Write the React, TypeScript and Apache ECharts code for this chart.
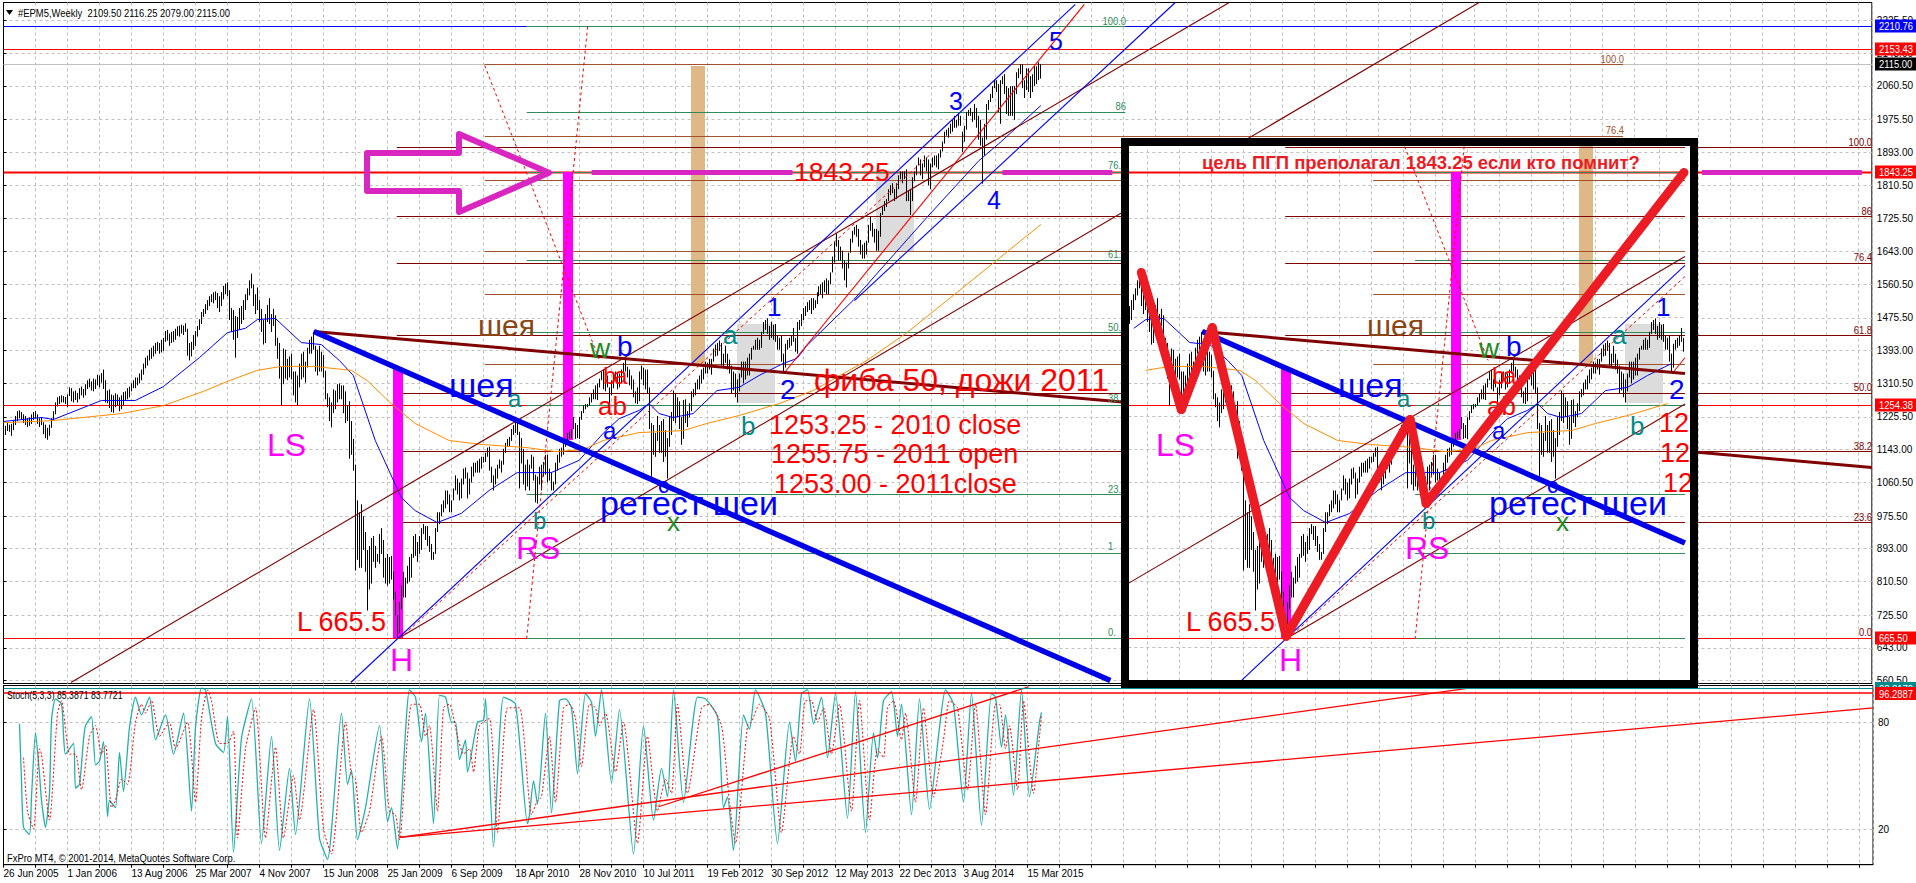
import React, { useEffect, useRef } from "react";
import * as echarts from "echarts";

// ---------- price bars (one per week, index 0 = first bar) ----------
const barHighs = [
  1200,1203,1210,1206,1208,1218,1228,1240,1242,1238,1232,1228,1222,1224,1232,1238,
  1240,1232,1222,1225,1212,1206,1198,1206,1222,1240,1262,1275,1278,1280,1278,1276,
  1282,1300,1298,1290,1292,1286,1298,1302,1296,1308,1318,1322,1315,1322,1320,1332,
  1330,1336,1345,1318,1292,1295,1282,1280,1285,1282,1275,1280,1288,1290,1298,1302,
  1310,1318,1325,1325,1335,1345,1360,1375,1380,1395,1400,1405,1412,1415,1412,1420,
  1425,1442,1445,1436,1440,1442,1448,1454,1456,1458,1456,1462,1448,1412,1415,1432,
  1442,1455,1472,1490,1498,1510,1520,1530,1535,1540,1542,1538,1530,1540,1556,1562,
  1565,1545,1500,1495,1480,1478,1500,1505,1520,1535,1550,1570,1587,1560,1535,1552,
  1520,1498,1470,1485,1508,1525,1485,1498,1482,1425,1412,1352,1398,1395,1372,1378,
  1385,1340,1340,1330,1360,1385,1390,1365,1400,1420,1428,1440,1405,1395,1405,1390,
  1382,1342,1285,1275,1262,1295,1292,1308,1310,1305,1305,1290,1255,1265,1215,1170,
  1105,1015,985,1005,975,935,890,900,920,925,900,880,930,945,915,870,
  880,872,875,835,785,725,758,800,835,820,850,872,880,925,930,910,
  925,945,955,950,950,925,905,885,945,985,985,1005,1015,1040,1040,1030,
  1015,1045,1078,1070,1060,1070,1095,1098,1085,1070,1100,1110,1110,1115,1120,1125,
  1125,1135,1148,1150,1100,1078,1095,1105,1118,1115,1145,1160,1170,1175,1195,1205,
  1215,1218,1188,1172,1145,1105,1118,1105,1130,1125,1080,1075,1100,1105,1112,1130,
  1130,1095,1085,1062,1110,1130,1145,1148,1162,1170,1185,1188,1195,1225,1210,1205,
  1225,1240,1255,1258,1258,1275,1285,1295,1305,1310,1322,1340,1345,1320,1330,1300,
  1318,1335,1340,1338,1335,1345,1362,1370,1352,1345,1330,1320,1290,1300,1340,1355,
  1350,1345,1345,1300,1210,1205,1185,1228,1205,1215,1220,1192,1172,1225,1238,1292,
  1285,1275,1265,1225,1268,1270,1240,1260,1290,1296,1312,1320,1330,1345,1350,1365,
  1362,1372,1372,1398,1408,1412,1418,1412,1385,1405,1385,1370,1355,1340,1335,1320,
  1335,1365,1365,1365,1375,1385,1400,1405,1420,1425,1420,1440,1465,1470,1474,1455,
  1465,1458,1460,1430,1425,1430,1385,1410,1420,1425,1432,1450,1425,1465,1470,1485,
  1500,1505,1515,1520,1525,1525,1520,1540,1555,1560,1565,1570,1575,1570,1590,1630,
  1668,1688,1672,1655,1645,1620,1615,1640,1675,1695,1705,1710,1700,1672,1660,1665,
  1670,1710,1730,1715,1700,1700,1695,1740,1755,1770,1775,1800,1810,1815,1800,1815,
  1835,1845,1845,1845,1850,1795,1800,1830,1845,1860,1880,1875,1865,1885,1880,1875,
  1865,1880,1885,1885,1890,1900,1920,1945,1950,1955,1965,1975,1985,1975,1990,1985,
  1945,1960,1995,2000,2005,1995,2015,2005,1985,1975,1930,1965,2015,2025,2040,2060,
  2075,2075,2065,2075,2085,2090,2060,2055,2060,2060,2060,2095,2105,2115,2115,2075,
  2105,2105,2085,2090,2110,2110,2120,2116,
];
const barLows = [
  1172,1180,1190,1188,1178,1192,1205,1215,1222,1220,1210,1205,1200,1203,1208,1218,
  1222,1208,1200,1205,1182,1172,1168,1178,1198,1218,1232,1252,1258,1262,1262,1258,
  1250,1278,1265,1262,1268,1262,1270,1280,1274,1280,1296,1300,1292,1290,1296,1305,
  1300,1312,1296,1262,1260,1248,1238,1236,1250,1255,1240,1245,1255,1268,1270,1275,
  1290,1298,1298,1305,1310,1318,1332,1348,1355,1368,1372,1378,1385,1392,1385,1388,
  1392,1415,1418,1405,1412,1415,1420,1430,1428,1436,1432,1440,1380,1368,1378,1395,
  1405,1428,1445,1460,1478,1485,1495,1505,1515,1512,1520,1500,1490,1505,1522,1535,
  1530,1470,1440,1420,1375,1425,1445,1460,1470,1495,1520,1532,1550,1505,1485,1495,
  1465,1440,1408,1412,1465,1460,1440,1455,1405,1372,1322,1254,1308,1322,1318,1325,
  1320,1280,1262,1255,1300,1320,1325,1312,1350,1385,1385,1395,1340,1330,1340,1340,
  1325,1270,1250,1215,1199,1235,1245,1262,1270,1270,1235,1210,1215,1120,1130,1090,
  838,865,845,845,890,835,737,790,805,860,845,860,855,880,820,805,
  800,805,815,765,725,665.5,680,740,770,770,805,810,820,870,875,860,
  880,890,930,915,900,885,865,865,880,935,955,975,985,995,1005,985,
  985,1015,1040,1030,1015,1020,1055,1070,1020,1030,1060,1075,1085,1085,1085,1095,
  1110,1112,1125,1090,1060,1040,1055,1070,1095,1085,1105,1135,1150,1150,1165,1180,
  1185,1180,1045,1108,1055,1040,1050,1040,1095,1065,1010,1007,1055,1040,1075,1080,
  1060,1065,1040,1040,1055,1090,1110,1125,1130,1150,1158,1170,1172,1195,1170,1172,
  1170,1218,1235,1245,1250,1255,1262,1270,1270,1268,1300,1318,1295,1290,1300,1250,
  1280,1298,1320,1295,1300,1310,1335,1340,1325,1305,1295,1275,1260,1258,1265,1320,
  1305,1295,1285,1195,1075,1130,1125,1165,1135,1135,1112,1125,1070,1150,1180,1215,
  1210,1225,1195,1155,1170,1210,1200,1225,1240,1275,1280,1295,1295,1310,1320,1335,
  1335,1345,1332,1365,1378,1380,1392,1355,1350,1362,1345,1335,1285,1292,1275,1262,
  1290,1325,1310,1320,1330,1330,1370,1395,1395,1395,1395,1400,1435,1445,1435,1420,
  1425,1420,1415,1395,1395,1365,1338,1350,1395,1400,1405,1415,1390,1385,1445,1455,
  1470,1480,1490,1495,1485,1495,1500,1510,1530,1535,1525,1540,1535,1535,1560,1590,
  1615,1655,1620,1620,1600,1570,1552,1600,1640,1665,1685,1680,1655,1635,1625,1625,
  1635,1665,1695,1680,1665,1645,1645,1680,1735,1745,1755,1770,1785,1790,1770,1775,
  1800,1825,1815,1825,1770,1770,1735,1770,1820,1835,1860,1835,1825,1855,1845,1810,
  1800,1855,1860,1855,1850,1880,1895,1915,1935,1930,1940,1945,1955,1955,1960,1960,
  1893,1920,1950,1985,1985,1970,1975,1955,1925,1910,1814,1885,1925,2000,2020,2030,
  2055,2045,1995,1965,2065,2040,1990,1985,1985,1985,1975,2040,2080,2090,2055,2030,
  2050,2045,2030,2045,2060,2065,2075,2079,
];

// ---------- moving averages: [bar, price] ----------
const slowAverage: number[][] = [
  [0,1211],[24,1216],[59,1234],[80,1254],[100,1290],[113,1317],[127,1343],[139,1353],[155,1353],[174,1343],
  [182,1317],[194,1259],[206,1209],[223,1166],[239,1156],[262,1148],[276,1138],[290,1143],[300,1166],[318,1186],
  [340,1191],[352,1209],[368,1229],[388,1259],[405,1292],[432,1368],[452,1438],[472,1519],[498,1625],[519,1711],
];
const fastAverage: number[][] = [
  [0,1214],[19,1224],[25,1219],[49,1267],[66,1267],[80,1302],[98,1375],[112,1438],[121,1449],[127,1471],[136,1474],
  [149,1413],[159,1408],[168,1368],[175,1330],[186,1166],[199,1022],[206,989],[217,959],[229,982],[243,1040],[257,1085],
  [274,1085],[288,1116],[300,1184],[308,1221],[318,1242],[323,1259],[328,1234],[335,1224],[345,1234],[357,1292],[368,1300],
  [378,1330],[390,1360],[397,1373],[402,1406],[425,1519],[462,1729],[488,1872],[498,1915],[519,2011],
];

// ---------- stochastic ----------
const stochK: number[][] = [
  [8,79],[9,47],[10,21],[13,17],[14,38],[16,74],[18,51],[19,36],[21,21],[23,40],[24,81],[26,93],[29,90],[30,73],[31,62],
  [35,68],[36,43],[38,45],[40,70],[41,78],[44,83],[46,56],[48,58],[50,69],[52,27],[53,36],[56,32],[58,63],[60,41],[63,77],
  [66,94],[69,84],[73,94],[76,70],[81,84],[85,62],[90,85],[94,30],[96,77],[99,99],[101,98],[106,68],[110,63],[112,83],[115,7],
  [119,71],[124,93],[129,12],[134,72],[138,8],[143,54],[146,17],[153,93],[158,15],[162,3],[169,85],[172,45],[174,53],[177,14],
  [181,32],[188,78],[192,24],[194,32],[197,9],[203,98],[206,94],[209,69],[211,85],[215,23],[218,95],[221,94],[224,80],[226,80],
  [228,59],[231,70],[232,52],[237,80],[240,81],[241,93],[245,10],[250,94],[256,90],[262,23],
  [263,28],[265,47],[267,34],[271,85],[274,29],[278,92],[281,93],[284,88],[287,51],[291,96],[294,91],[296,72],[299,98],[304,46],
  [308,87],[315,6],[320,78],[325,25],[329,54],[332,38],[335,98],[340,35],[347,94],[351,93],[357,83],[360,32],[362,38],[365,8],
  [370,84],[373,76],[376,98],[381,85],[387,12],[393,80],[396,58],[399,96],[402,98],[405,79],[409,94],[412,60],[416,96],[422,26],
  [426,97],[431,18],[435,74],[437,60],[440,92],[444,97],[447,72],[449,90],[454,28],[458,93],[463,31],[468,77],[471,98],[475,90],
  [480,35],[484,96],[489,22],[494,96],[496,94],[499,66],[501,84],[505,39],[509,98],[513,38],[518,80],[519,85.39],
];
const stochD: number[][] = [
  [10,60],[12,30],[15,20],[18,65],[19,62],[23,25],[27,85],[29,92],[33,62],[36,62],[39,42],[43,72],[46,78],[49,62],[51,67],[54,32],
  [56,36],[59,48],[62,45],[66,80],[69,90],[71,85],[74,92],[78,72],[83,80],[86,65],[92,80],[96,35],[99,82],[102,98],[104,92],[108,68],
  [112,68],[115,75],[117,15],[121,65],[126,88],[131,15],[136,66],[140,15],[145,50],[148,25],[155,87],[160,20],[164,6],[171,80],[174,50],
  [176,48],[179,18],[183,30],[189,72],[193,30],[196,28],[198,14],[204,90],[208,90],[211,72],[213,78],[217,30],[220,88],[223,90],[227,72],
  [230,62],[233,65],[235,52],[238,78],[243,82],[247,18],[252,88],[258,88],[264,28],[267,36],[269,38],[273,72],[276,35],[280,88],[283,90],
  [286,82],[289,55],[293,90],[296,88],[298,78],[301,85],[306,52],[310,80],[317,12],[322,72],[327,30],[331,48],[334,40],[337,90],[342,40],
  [349,88],[353,90],[359,78],[363,35],[366,12],[372,78],[374,80],[378,90],[383,82],[389,18],[395,72],[398,62],[401,92],[404,92],[407,80],
  [410,88],[414,62],[418,90],[424,30],[428,92],[433,25],[437,65],[440,60],[442,88],[445,92],[449,70],[451,85],[456,35],[460,88],[465,38],
  [470,70],[473,92],[477,88],[482,42],[486,90],[491,28],[496,90],[498,90],[501,65],[503,78],[507,42],[510,92],[515,40],[518,72],[519,83.77],
];
const stochTrendLines: number[][] = [
  [327.5,32.5,512.6,99.8],
  [198,15.3,731,98.8],
  [198,15.3,934.75,87.9],
];
const stochLevels = [98.8179, 96.2887];

// ---------- axis ticks ----------
const priceTicks = [2225.5,2143,2060.5,1975.5,1893,1810.5,1725.5,1643,1560.5,1475.5,1393,1310.5,1225.5,1143,1060.5,975.5,893,810.5,725.5,643,560.5];
const stochTicks = [20, 80];
const dateLabels = ["26 Jun 2005","1 Jan 2006","13 Aug 2006","25 Mar 2007","4 Nov 2007","15 Jun 2008","25 Jan 2009","6 Sep 2009","18 Apr 2010","28 Nov 2010","10 Jul 2011","19 Feb 2012","30 Sep 2012","12 May 2013","22 Dec 2013","3 Aug 2014","15 Mar 2015"];

// ---------- drawn objects, in bars and prices ----------
const fibMaroon = [1905,1731,1612.5,1431.5,1285,1139,958];
const fibBrown = [2115,1933,1822,1643,1534,1358];
const fibGreen = [2210.76,1993.5,1842,1620.5,1438,1254.4,1030,881,665.5];
const neckBlue = [155.25,1441,553.75,560.5];
const neckMaroon = [155.25,1441,934.75,1098];
const channelMaroon = [[33.75,555.5,613.25,2271],[198.25,669,738.25,2271]];
const channelBlue = [[173.75,555.5,536.25,2266],[425.75,1519,586.25,2271]];
const channelRed = [390.75,1337.6,540.75,2266];
const dashedRed = [[198.25,666.5,464.75,1892.5],[240.75,2112,298.25,1368],[292.25,2210,261.75,666.5]];
const greyBoxes = [[436.75,1842,455.75,1643],[366.75,1461,385.75,1262]];
const tanBoxes = [[343.75,2112,350.75,1360]];
const magentaBoxes = [[279.75,1843.25,284.75,1166],[194.75,1348,199.75,666]];
const targetSegments = [[294.25,394.75],[499.75,554.75],[849.75,929.75]];
const zigzag = [[569.25,1590],[589.25,1244],[604.75,1451],[641.75,672],[703.75,1219],[711.75,1007],[840.75,1842]];

const LAST_BAR_OFFSET = 444.5; // copy of the chart pasted into the black frame
const RIGHT = 934.75, FIB_M_START = 196.75, FIB_B_START = 240.75, FIB_B_END = 810.25, FIB_G_START = 261.75, FIB_G_END = 561.25;
const INSET = { x1: 562.75, x2: 841.25, y1: 560.5, y2: 1907.7 };

const FONT = "Liberation Sans";
const RED = "#ff0000", BLUE = "#0000ff", MAROON = "#800000", BROWN = "#a0522d", GREEN = "#2e8b57", TEAL = "#008b8b", MAGENTA = "#ff00ff", PURPLE = "#d926c0", GRID = "#c0c0c0";

type Item = { k: "l" | "r"; p: number[]; c: string; w?: number; d?: number[]; cap?: string };

function clipLine(p: number[], r: typeof INSET): number[] | null {
  let t0 = 0, t1 = 1;
  const dx = p[2] - p[0], dy = p[3] - p[1];
  const tests = [[-dx, p[0] - r.x1], [dx, r.x2 - p[0]], [-dy, p[1] - r.y1], [dy, r.y2 - p[1]]];
  for (const [a, q] of tests) {
    if (a === 0) { if (q < 0) return null; continue; }
    const t = q / a;
    if (a < 0) { if (t > t1) return null; if (t > t0) t0 = t; }
    else { if (t < t0) return null; if (t < t1) t1 = t; }
  }
  return [p[0] + t0 * dx, p[1] + t0 * dy, p[0] + t1 * dx, p[1] + t1 * dy];
}

function backItems(): Item[] {
  const o: Item[] = [];
  greyBoxes.forEach((p) => o.push({ k: "r", p, c: "#dcdcdc" }));
  tanBoxes.forEach((p) => o.push({ k: "r", p, c: "#deb887" }));
  fibBrown.forEach((v) => o.push({ k: "l", p: [FIB_B_START, v, FIB_B_END, v], c: BROWN, w: 1 }));
  fibMaroon.forEach((v) => o.push({ k: "l", p: [FIB_M_START, v, RIGHT, v], c: MAROON, w: 1 }));
  o.push({ k: "l", p: [0, 2210.76, RIGHT, 2210.76], c: BLUE, w: 1 });
  o.push({ k: "l", p: [0, 2153.43, RIGHT, 2153.43], c: RED, w: 1 });
  o.push({ k: "l", p: [0, 2115, RIGHT, 2115], c: GRID, w: 1 });
  o.push({ k: "l", p: [FIB_B_START, 2115, FIB_B_END, 2115], c: BROWN, w: 1 });
  o.push({ k: "l", p: [0, 1843.25, RIGHT, 1843.25], c: RED, w: 2 });
  o.push({ k: "l", p: [0, 1254.38, RIGHT, 1254.38], c: RED, w: 1 });
  o.push({ k: "l", p: [0, 665.5, RIGHT, 665.5], c: RED, w: 1 });
  fibGreen.forEach((v) => o.push({ k: "l", p: [FIB_G_START, v, FIB_G_END, v], c: GREEN, w: 1 }));
  magentaBoxes.forEach((p) => o.push({ k: "r", p, c: MAGENTA }));
  return o;
}
function frontItems(): Item[] {
  const o: Item[] = [];
  channelMaroon.forEach((p) => o.push({ k: "l", p, c: MAROON, w: 1.1 }));
  channelBlue.forEach((p) => o.push({ k: "l", p, c: BLUE, w: 1.1 }));
  o.push({ k: "l", p: channelRed, c: RED, w: 1.1 });
  dashedRed.forEach((p) => o.push({ k: "l", p, c: RED, w: 1, d: [3, 3] }));
  o.push({ k: "l", p: neckMaroon, c: MAROON, w: 3 });
  o.push({ k: "l", p: neckBlue, c: "#0000e6", w: 5.5 });
  return o;
}
function shifted(items: Item[]): Item[] {
  const out: Item[] = [];
  items.forEach((it) => {
    const s = [it.p[0] + LAST_BAR_OFFSET, it.p[1], it.p[2] + LAST_BAR_OFFSET, it.p[3]];
    if (it.k === "l") {
      const c = clipLine(s, INSET);
      if (c) out.push({ ...it, p: c });
    } else {
      const c = [Math.max(s[0], INSET.x1), Math.min(s[1], INSET.y2), Math.min(s[2], INSET.x2), Math.max(s[3], INSET.y1)];
      if (c[0] < c[2] && c[1] > c[3]) out.push({ ...it, p: c });
    }
  });
  return out;
}

const snap = (v: number) => Math.round(v - 0.5) + 0.5;

function itemSeries(name: string, items: Item[], z: number) {
  return {
    type: "custom", name, z, clip: true, silent: true, xAxisIndex: 0, yAxisIndex: 0,
    encode: { x: [0, 2], y: [1, 3] },
    data: items.map((i) => i.p),
    renderItem: (params: any, api: any) => {
      const it = items[params.dataIndex];
      const a = api.coord([it.p[0], it.p[1]]);
      const b = api.coord([it.p[2], it.p[3]]);
      if (it.k === "r") {
        return { type: "rect", shape: { x: Math.round(a[0]), y: Math.round(a[1]), width: Math.round(b[0] - a[0]), height: Math.round(b[1] - a[1]) }, style: { fill: it.c } };
      }
      if (it.p[1] === it.p[3]) { a[1] = b[1] = snap(a[1]); }
      if (it.p[0] === it.p[2]) { a[0] = b[0] = snap(a[0]); }
      return {
        type: "line", shape: { x1: a[0], y1: a[1], x2: b[0], y2: b[1] },
        style: { stroke: it.c, lineWidth: it.w, lineDash: it.d, lineCap: it.cap || "butt", fill: null },
      };
    },
  };
}
function barSeries(name: string, shift: number, from: number, to: number, z: number) {
  const rows: number[][] = [];
  for (let i = from; i <= to; i++) rows.push([i + shift, barLows[i], barHighs[i]]);
  return {
    type: "custom", name, z, clip: true, silent: true, xAxisIndex: 0, yAxisIndex: 0,
    encode: { x: 0, y: [1, 2] },
    data: rows,
    renderItem: (_: any, api: any) => {
      const lo = api.coord([api.value(0), api.value(1)]);
      const hi = api.coord([api.value(0), api.value(2)]);
      const x = snap(lo[0]);
      return { type: "line", shape: { x1: x, y1: lo[1], x2: x, y2: hi[1] }, style: { stroke: "#000", lineWidth: 1 } };
    },
  };
}
function avgSeries(name: string, d: number[][], color: string, z: number, shift = 0) {
  const pts = d.map((q) => [q[0] + shift, q[1]]).filter((q) => !shift || (q[0] >= INSET.x1 && q[0] <= INSET.x2));
  return { type: "line", name, z, silent: true, xAxisIndex: 0, yAxisIndex: 0, showSymbol: false, symbol: "none", data: pts, lineStyle: { color, width: 1 } };
}

type T = [string, number, number, number, string, number?];
const sharedTexts: T[] = [
  ["шея", 478, 325, 30, "#8b4513"],
  ["шея", 449, 385, 34, BLUE],
  ["a", 508, 398, 24, TEAL],
  ["LS", 267, 445, 32, MAGENTA],
  ["RS", 516, 548, 32, MAGENTA],
  ["b", 533, 520, 24, TEAL],
  ["H", 390, 660, 32, MAGENTA],
  ["L 665.5", 297, 622, 27, RED],
  ["w", 590, 348, 28, "#228b22"],
  ["b", 617, 346, 28, BLUE],
  ["b", 603, 375, 24, RED],
  ["a", 614, 375, 24, RED],
  ["ab", 598, 406, 26, RED],
  ["a", 603, 430, 24, BLUE],
  ["ретест шеи", 600, 503, 34, BLUE],
  ["c", 658, 485, 22, BLUE],
  ["x", 667, 522, 26, "#228b22"],
  ["a", 723, 335, 26, TEAL],
  ["b", 741, 426, 26, TEAL],
  ["2", 780, 389, 28, BLUE],
  ["1", 767, 307, 26, BLUE],
];
const mainTexts: T[] = [
  ["1843.25", 794, 172, 26.5, RED],
  ["3", 949, 101, 25, BLUE],
  ["4", 987, 200, 25, BLUE],
  ["5", 1049, 41, 25, BLUE],
  ["фиба 50, дожи 2011", 814, 380, 32, RED],
  ["1253.25 - 2010 close", 769, 425, 27, RED],
  ["1255.75 - 2011 open", 771, 454, 27, RED],
  ["1253.00 - 2011close", 774, 484, 27, RED],
];
const insetTexts: T[] = [
  ["12", 1659, 423, 27, RED],
  ["12", 1660, 453, 27, RED],
  ["12", 1663, 483, 27, RED],
];
const levelTags: [string, number, string, number][] = [
  ["2210.76", 26, BLUE, 1],
  ["2153.43", 49, RED, 1],
  ["2115.00", 64, "#000", 1],
  ["1843.25", 172, RED, 1],
  ["1254.38", 405, RED, 1],
  ["665.50", 638, RED, 1],
  ["98.8179", 688.5, TEAL, 2],
  ["96.2887", 693.5, RED, 3],
];
const rightLabels: [string, number, number, string][] = [
  ["100.0", 1624, 59, BROWN], ["76.4", 1624, 130, BROWN],
  ["100.0", 1872, 142, MAROON], ["86", 1872, 211, MAROON], ["76.4", 1872, 257, MAROON], ["61.8", 1872, 330, MAROON],
  ["50.0", 1872, 387, MAROON], ["38.2", 1872, 446, MAROON], ["23.6", 1872, 517, MAROON], ["0.0", 1872, 632, MAROON],
  ["100.0", 1126, 21, GREEN], ["86", 1126, 106, GREEN],
];
const cutLabels: [string, number, string][] = [
  ["76.", 165, GREEN], ["61.", 254, GREEN], ["50.", 327, GREEN], ["38.", 398, GREEN], ["23.", 489, GREEN], ["1", 546, GREEN], ["0.", 632, GREEN],
];

function tx(t: T, dx: number, z: number) {
  return {
    type: "text", x: t[1] + dx, y: t[2], z, silent: true,
    style: { text: t[0], fontSize: t[3], fontFamily: FONT, fill: t[4], align: "left", textAlign: "left", verticalAlign: "middle", textVerticalAlign: "middle" },
  };
}
function small(text: string, x: number, y: number, z: number, fill: string, align = "left", scaleX = 0.82) {
  return {
    type: "text", x, y, z, silent: true, scaleX,
    style: { text, fontSize: 11.5, fontFamily: FONT, fill, align, textAlign: align, verticalAlign: "middle", textVerticalAlign: "middle" },
  };
}

function buildOption() {
  const insetGrid: Item[] = [];
  priceTicks.forEach((v) => {
    const c = clipLine([INSET.x1, v, INSET.x2, v], INSET);
    if (c) insetGrid.push({ k: "l", p: c, c: GRID, w: 1, d: [3, 3] });
  });
  for (let k = 0; k <= RIGHT; k += 16) {
    const x = k + LAST_BAR_OFFSET;
    if (x > INSET.x1 && x < INSET.x2) insetGrid.push({ k: "l", p: [x, INSET.y1, x, INSET.y2], c: GRID, w: 1, d: [3, 3] });
  }
  const target: Item[] = targetSegments.map((s) => ({ k: "l", p: [s[0], 1843.25, s[1], 1843.25], c: PURPLE, w: 5 }));
  const zig: Item[] = zigzag.slice(1).map((q, i) => ({ k: "l", p: [zigzag[i][0], zigzag[i][1], q[0], q[1]], c: "#ed1c24", w: 9, cap: "round" }));

  const insetFirst = 119, insetLast = 396;

  const graphicEls: any[] = [];
  graphicEls.push({
    type: "polygon", z: 7, silent: true,
    shape: { points: [[367, 153], [459, 153], [459, 134], [549, 172.7], [459, 212], [459, 191], [367, 191]] },
    style: { fill: "none", stroke: PURPLE, lineWidth: 6, lineJoin: "round" },
  });
  sharedTexts.forEach((t) => graphicEls.push(tx(t, 0, 6)));
  mainTexts.forEach((t) => graphicEls.push(tx(t, 0, 6)));
  rightLabels.forEach((r) => graphicEls.push(small(r[0], r[1], r[2], 6, r[3], "right")));
  cutLabels.forEach((r) => graphicEls.push(small(r[0], 1108, r[1], 6, r[2], "left")));
  graphicEls.push({ type: "rect", z: 9, silent: true, shape: { x: 1121, y: 138, width: 577, height: 550 }, style: { fill: "#fff" } });
  sharedTexts.forEach((t) => graphicEls.push(tx(t, 889, 16)));
  insetTexts.forEach((t) => graphicEls.push(tx(t, 0, 16)));
  graphicEls.push({
    type: "text", x: 1202, y: 162, z: 16, silent: true,
    style: { text: "цель ПГП преполагал 1843.25 если кто помнит?", fontSize: 18.5, fontWeight: "bold", fontFamily: FONT, fill: "#ed1c24", align: "left", textAlign: "left", verticalAlign: "middle", textVerticalAlign: "middle" },
  });
  graphicEls.push({ type: "rect", z: 20, silent: true, shape: { x: 1125, y: 142, width: 569, height: 542 }, style: { fill: "none", stroke: "#000", lineWidth: 8 } });
  graphicEls.push({ type: "polygon", z: 21, silent: true, shape: { points: [[6, 10], [13, 10], [9.5, 15]] }, style: { fill: "#000" } });
  graphicEls.push(small("#EPM5,Weekly  2109.50 2116.25 2079.00 2115.00", 18, 13, 21, "#000"));
  graphicEls.push(small("Stoch(5,3,3) 85.3871 83.7721", 7, 695, 21, "#000", "left", 0.76));
  graphicEls.push(small("FxPro MT4, © 2001-2014, MetaQuotes Software Corp.", 7, 858, 21, "#000"));
  levelTags.forEach((t) => {
    graphicEls.push({ type: "rect", z: 22 + t[3], silent: true, shape: { x: 1875, y: t[1] - 6.5, width: 41, height: 13 }, style: { fill: t[2] } });
    graphicEls.push(small(t[0], 1879, t[1], 23 + t[3], "#fff"));
  });

  return {
    animation: false,
    backgroundColor: "#fff",
    grid: [
      { left: 3.5, top: 2.5, width: 1869.5, height: 681, show: true, borderColor: "#000", borderWidth: 1, backgroundColor: "#fff" },
      { left: 3.5, top: 685.5, width: 1869.5, height: 179.2, show: true, borderColor: "#000", borderWidth: 1, backgroundColor: "#fff" },
    ],
    xAxis: [
      { type: "value", gridIndex: 0, min: 0, max: RIGHT, interval: 16, axisLine: { show: false }, axisTick: { show: false }, axisLabel: { show: false }, splitLine: { show: true, lineStyle: { color: GRID, type: [3, 3], width: 1 } } },
      {
        type: "value", gridIndex: 1, min: 0, max: RIGHT, interval: 16,
        axisLine: { show: true, lineStyle: { color: "#000" } },
        axisTick: { show: true, length: 3, lineStyle: { color: "#000" }, interval: 0 },
        splitLine: { show: true, lineStyle: { color: GRID, type: [3, 3], width: 1 } },
        axisLabel: {
          show: true, margin: 4, align: "left", fontSize: 10, fontFamily: FONT, color: "#000", hideOverlap: false,
          showMinLabel: true, showMaxLabel: false,
          formatter: (v: number) => (v % 32 === 0 && dateLabels[v / 32] ? dateLabels[v / 32] : ""),
        },
      },
    ],
    yAxis: [
      {
        type: "value", gridIndex: 0, position: "right", min: 553, max: 2270.95,
        axisLine: { show: true, lineStyle: { color: "#000" } },
        axisTick: { show: true, length: 3, lineStyle: { color: "#000" }, customValues: priceTicks },
        splitLine: { show: true, lineStyle: { color: GRID, type: [3, 3], width: 1 } },
        axisLabel: { show: true, margin: 5, fontSize: 10, fontFamily: FONT, color: "#000", customValues: priceTicks, formatter: (v: number) => v.toFixed(2), hideOverlap: false },
      },
      {
        type: "value", gridIndex: 1, position: "right", min: 0, max: 100.5,
        axisLine: { show: true, lineStyle: { color: "#000" } },
        axisTick: { show: true, length: 3, lineStyle: { color: "#000" }, customValues: stochTicks },
        splitLine: { show: true, lineStyle: { color: GRID, type: [3, 3], width: 1 } },
        axisLabel: { show: true, margin: 5, fontSize: 10, fontFamily: FONT, color: "#000", customValues: stochTicks, formatter: (v: number) => String(v) },
      },
    ],
    graphic: { elements: graphicEls },
    series: [
      itemSeries("levels", backItems(), 2),
      barSeries("price", 0, 0, barHighs.length - 1, 3),
      avgSeries("fast average", fastAverage, BLUE, 4),
      avgSeries("slow average", slowAverage, "#ff8c00", 4),
      itemSeries("trend lines", frontItems(), 5),
      itemSeries("target", target, 8),
      itemSeries("copy grid", insetGrid, 10),
      itemSeries("copy levels", shifted(backItems()), 11),
      barSeries("copy price", LAST_BAR_OFFSET, insetFirst, insetLast, 12),
      avgSeries("copy fast average", fastAverage, BLUE, 13, LAST_BAR_OFFSET),
      avgSeries("copy slow average", slowAverage, "#ff8c00", 13, LAST_BAR_OFFSET),
      itemSeries("copy trend lines", shifted(frontItems()), 14),
      itemSeries("zigzag", zig, 18),
      { type: "line", name: "%K", xAxisIndex: 1, yAxisIndex: 1, z: 3, silent: true, showSymbol: false, symbol: "none", smooth: 0.2, data: stochK, lineStyle: { color: "#20b2aa", width: 1.3 } },
      { type: "line", name: "%D", xAxisIndex: 1, yAxisIndex: 1, z: 3, silent: true, showSymbol: false, symbol: "none", smooth: 0.2, data: stochD, lineStyle: { color: RED, width: 1, type: [2, 2] } },
      {
        type: "custom", name: "stoch lines", xAxisIndex: 1, yAxisIndex: 1, z: 4, clip: true, silent: true, encode: { x: [0, 2], y: [1, 3] },
        data: [...stochTrendLines, [0, stochLevels[0], RIGHT, stochLevels[0]], [0, stochLevels[1], RIGHT, stochLevels[1]]],
        renderItem: (params: any, api: any) => {
          const a = api.coord([api.value(0), api.value(1)]);
          const b = api.coord([api.value(2), api.value(3)]);
          const isTeal = params.dataIndex === stochTrendLines.length;
          return { type: "line", shape: { x1: a[0], y1: a[1], x2: b[0], y2: b[1] }, style: { stroke: isTeal ? TEAL : RED, lineWidth: isTeal ? 1 : 1.3 } };
        },
      },
    ],
  };
}

export default function App() {
  const ref = useRef<HTMLDivElement>(null);
  useEffect(() => {
    const chart = echarts.init(ref.current as HTMLDivElement, undefined, { renderer: "svg" });
    chart.setOption(buildOption() as any);
    return () => chart.dispose();
  }, []);
  return <div ref={ref} style={{ position: "absolute", left: 0, top: 0, width: 1916, height: 883, background: "#fff" }} />;
}
